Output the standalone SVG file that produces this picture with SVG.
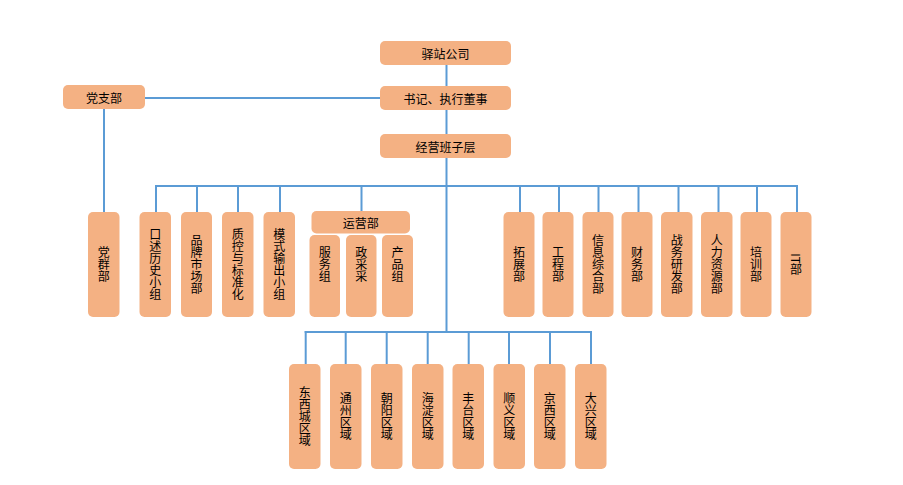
<svg xmlns="http://www.w3.org/2000/svg" width="903" height="485" viewBox="0 0 903 485">
<style>
.box{fill:#F4B183;stroke:none}
.t{font-family:"Noto Sans CJK SC","Noto Sans",sans-serif;font-size:12px;fill:#000;text-anchor:middle;dominant-baseline:central}
.v{writing-mode:vertical-rl;letter-spacing:0px}
.ln{stroke:#5B9BD5;stroke-width:2;fill:none}
</style>
<rect width="903" height="485" fill="#fff"/>
<g id="connectors" class="ln">
<line x1="446.5" y1="65" x2="446.5" y2="86"/>
<line x1="446.5" y1="110" x2="446.5" y2="134"/>
<line x1="145" y1="98" x2="380" y2="98"/>
<line x1="104" y1="109" x2="104" y2="212"/>
<line x1="446.5" y1="158" x2="446.5" y2="333"/>
<line x1="155" y1="186" x2="797.5" y2="186"/>
<line x1="156" y1="185" x2="156" y2="212"/>
<line x1="197" y1="185" x2="197" y2="212"/>
<line x1="238" y1="185" x2="238" y2="212"/>
<line x1="280" y1="185" x2="280" y2="212"/>
<line x1="361.5" y1="185" x2="361.5" y2="211"/>
<line x1="520" y1="185" x2="520" y2="212"/>
<line x1="559" y1="185" x2="559" y2="212"/>
<line x1="598.5" y1="185" x2="598.5" y2="212"/>
<line x1="638.5" y1="185" x2="638.5" y2="212"/>
<line x1="678.5" y1="185" x2="678.5" y2="212"/>
<line x1="718.5" y1="185" x2="718.5" y2="212"/>
<line x1="757" y1="185" x2="757" y2="212"/>
<line x1="797" y1="185" x2="797" y2="212"/>
<line x1="304.7" y1="332" x2="592" y2="332"/>
<line x1="305.7" y1="331" x2="305.7" y2="364"/>
<line x1="345.7" y1="331" x2="345.7" y2="364"/>
<line x1="386.7" y1="331" x2="386.7" y2="364"/>
<line x1="427.7" y1="331" x2="427.7" y2="364"/>
<line x1="468.7" y1="331" x2="468.7" y2="364"/>
<line x1="509" y1="331" x2="509" y2="364"/>
<line x1="550" y1="331" x2="550" y2="364"/>
<line x1="591" y1="331" x2="591" y2="364"/>
</g>
<g id="n-yizhan"><rect class="box" x="380" y="41" width="131" height="24" rx="5"/><text class="t" x="445.5" y="53">驿站公司</text></g>
<g id="n-shuji"><rect class="box" x="380" y="86" width="131" height="24" rx="5"/><text class="t" x="445.5" y="98">书记、执行董事</text></g>
<g id="n-jingying"><rect class="box" x="380" y="134" width="131" height="24" rx="5"/><text class="t" x="445.5" y="146">经营班子层</text></g>
<g id="n-dangzhi"><rect class="box" x="63" y="85" width="82" height="24" rx="5"/><text class="t" x="104" y="97">党支部</text></g>
<g id="n-dangqun"><rect class="box" x="88" y="212" width="31.5" height="105" rx="5"/><text class="t v" x="103.8" y="264.5">党群部</text></g>
<g id="n-koushu"><rect class="box" x="139.5" y="212" width="31.5" height="105" rx="5"/><text class="t v" x="155.3" y="264.5">口述历史小组</text></g>
<g id="n-pinpai"><rect class="box" x="181" y="212" width="31" height="105" rx="5"/><text class="t v" x="196.5" y="264.5">品牌市场部</text></g>
<g id="n-zhikong"><rect class="box" x="222" y="212" width="31.5" height="105" rx="5"/><text class="t v" x="237.8" y="264.5">质控与标准化</text></g>
<g id="n-moshi"><rect class="box" x="263.5" y="212" width="31.5" height="105" rx="5"/><text class="t v" x="279.3" y="264.5">模式输出小组</text></g>
<g id="n-yunying"><rect class="box" x="311.5" y="211" width="98.5" height="22.5" rx="5"/><text class="t" x="360.8" y="222">运营部</text></g>
<g id="n-fuwu"><rect class="box" x="309.5" y="235" width="30.5" height="82" rx="5"/><text class="t v" x="324.8" y="264.5">服务组</text></g>
<g id="n-zhengcai"><rect class="box" x="346" y="235" width="30.5" height="82" rx="5"/><text class="t v" x="361.3" y="264.5">政采采</text></g>
<g id="n-chanpin"><rect class="box" x="382" y="235" width="31" height="82" rx="5"/><text class="t v" x="397.5" y="264.5">产品组</text></g>
<g id="n-tuozhan"><rect class="box" x="503.5" y="212" width="31" height="105" rx="5"/><text class="t v" x="519" y="264.5">拓展部</text></g>
<g id="n-gongcheng"><rect class="box" x="542.5" y="212" width="31" height="105" rx="5"/><text class="t v" x="558" y="264.5">工程部</text></g>
<g id="n-xinxi"><rect class="box" x="582.5" y="212" width="31" height="105" rx="5"/><text class="t v" x="598" y="264.5">信息综合部</text></g>
<g id="n-caiwu"><rect class="box" x="621.5" y="212" width="31" height="105" rx="5"/><text class="t v" x="637" y="264.5">财务部</text></g>
<g id="n-zhanwu"><rect class="box" x="661" y="212" width="31.5" height="105" rx="5"/><text class="t v" x="676.8" y="264.5">战务研发部</text></g>
<g id="n-renli"><rect class="box" x="701" y="212" width="31.5" height="105" rx="5"/><text class="t v" x="716.8" y="264.5">人力资源部</text></g>
<g id="n-peixun"><rect class="box" x="740.5" y="212" width="31" height="105" rx="5"/><text class="t v" x="756" y="264.5">培训部</text></g>
<g id="n-it"><rect class="box" x="780.5" y="212" width="31" height="105" rx="5"/><text class="t v" x="796" y="264.5">IT部</text></g>
<g id="n-dongxi"><rect class="box" x="289" y="364" width="31.5" height="105" rx="5"/><text class="t v" x="304.8" y="416.5">东西城区域</text></g>
<g id="n-tongzhou"><rect class="box" x="330" y="364" width="31.5" height="105" rx="5"/><text class="t v" x="345.8" y="416.5">通州区域</text></g>
<g id="n-chaoyang"><rect class="box" x="371" y="364" width="31.5" height="105" rx="5"/><text class="t v" x="386.8" y="416.5">朝阳区域</text></g>
<g id="n-haidian"><rect class="box" x="412" y="364" width="31.5" height="105" rx="5"/><text class="t v" x="427.8" y="416.5">海淀区域</text></g>
<g id="n-fengtai"><rect class="box" x="452.5" y="364" width="31.5" height="105" rx="5"/><text class="t v" x="468.3" y="416.5">丰台区域</text></g>
<g id="n-shunyi"><rect class="box" x="493.5" y="364" width="31.5" height="105" rx="5"/><text class="t v" x="509.3" y="416.5">顺义区域</text></g>
<g id="n-jingxi"><rect class="box" x="534" y="364" width="31.5" height="105" rx="5"/><text class="t v" x="549.8" y="416.5">京西区域</text></g>
<g id="n-daxing"><rect class="box" x="575" y="364" width="31.5" height="105" rx="5"/><text class="t v" x="590.8" y="416.5">大兴区域</text></g>
</svg>
